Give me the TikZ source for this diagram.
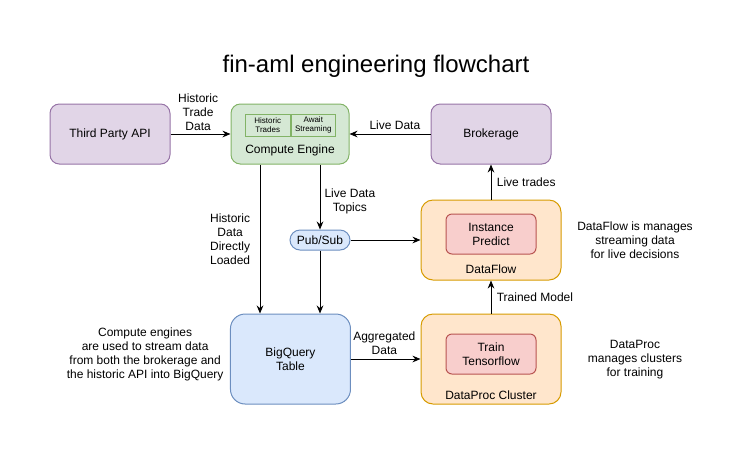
\documentclass[tikz,border=0pt]{standalone}
\usepackage{fontspec}
\setmainfont{Liberation Sans}
\usepackage{tikz}
\usetikzlibrary{arrows.meta, positioning, shapes.geometric}
\definecolor{srcFill}{HTML}{E1D5E7}
\definecolor{srcDraw}{HTML}{9673A6}
\definecolor{ceFill}{HTML}{D5E8D4}
\definecolor{ceDraw}{HTML}{82B366}
\definecolor{bqFill}{HTML}{DAE8FC}
\definecolor{bqDraw}{HTML}{6C8EBF}
\definecolor{clFill}{HTML}{FFE6CC}
\definecolor{clDraw}{HTML}{D79B00}
\definecolor{tkFill}{HTML}{F8CECC}
\definecolor{tkDraw}{HTML}{B85450}
\tikzstyle{fSource} = [rectangle, rounded corners=7pt, minimum width=90pt, minimum height=45pt, text centered, line width=0.75pt, draw=srcDraw, fill=srcFill]
\tikzstyle{fCompute} = [rectangle, rounded corners=7pt, minimum width=88.5pt, minimum height=45pt, line width=0.75pt, draw=ceDraw, fill=ceFill]
\tikzstyle{fCell} = [rectangle, minimum width=33.4pt, minimum height=16.5pt, inner sep=0pt, align=center, line width=0.75pt, draw=ceDraw, font=\fontsize{6}{7.2}\selectfont]
\tikzstyle{fQueue} = [rectangle, rounded corners=7.5pt, minimum width=45pt, minimum height=15pt, inner sep=0pt, line width=0.75pt, draw=bqDraw, fill=bqFill]
\tikzstyle{fStore} = [rectangle, rounded corners=11pt, minimum width=90pt, minimum height=67.5pt, align=center, line width=0.75pt, draw=bqDraw, fill=bqFill]
\tikzstyle{fCluster} = [rectangle, rounded corners=9pt, minimum width=105pt, line width=0.75pt, draw=clDraw, fill=clFill]
\tikzstyle{fTask} = [rectangle, rounded corners=4.5pt, minimum width=67.5pt, minimum height=30pt, align=center, line width=0.75pt, draw=tkDraw, fill=tkFill]
\tikzstyle{fNote} = [align=center, inner sep=1pt]
\tikzstyle{fArrow} = [line width=0.75pt, -{Stealth[length=6pt, width=5pt]}]

\begin{document}
\begin{tikzpicture}[x=1pt, y=1pt, every node/.style={font=\fontsize{9}{10.5}\selectfont}]
    \useasboundingbox (0,0) rectangle (564,-341.25);
    \node (title) [font=\fontsize{18}{21}\selectfont] at (282,-49.5) {fin-aml engineering flowchart};
    \node (thirdparty) [fSource] at (82.5,-100.5) {Third Party API};
    \node (compute) [fCompute, right of=thirdparty, node distance=135pt, label={[anchor=center, yshift=10.5pt]south:Compute Engine}] {};
    \node (histcell) [fCell, xshift=-16.7pt, yshift=6.75pt] at (compute) {Historic\\Trades};
    \node (awaitcell) [fCell, right=0pt of histcell] {Await\\Streaming};
    \node (brokerage) [fSource, right of=compute, node distance=150.75pt] {Brokerage};
    \node (dataflow) [fCluster, minimum height=60pt, below of=brokerage, node distance=79.5pt, label={[anchor=center, yshift=8.25pt]south:DataFlow}] {};
    \node (predict) [fTask, yshift=4.5pt] at (dataflow) {Instance\\Predict};
    \node (dataproc) [fCluster, minimum height=67.5pt, below of=dataflow, node distance=89.25pt, label={[anchor=center, yshift=6.75pt]south:DataProc Cluster}] {};
    \node (train) [fTask, yshift=3.75pt] at (dataproc) {Train\\Tensorflow};
    \node (bigquery) [fStore, left of=dataproc, node distance=150.4pt] {BigQuery\\Table};
    \node (pubsub) [fQueue, below of=compute, node distance=79.5pt, xshift=22.5pt] {Pub/Sub};
    \node (cenote) [fNote, left of=bigquery, node distance=109pt, yshift=3.75pt] {Compute engines\\are used to stream data\\from both the brokerage and\\the historic API into BigQuery};
    \node (dfnote) [fNote, right of=dataflow, node distance=108pt] {DataFlow is manages\\streaming data\\for live decisions};
    \node (dpnote) [fNote, right of=dataproc, node distance=108pt, yshift=-0.75pt] {DataProc\\manages clusters\\for training};

    \draw [fArrow] (thirdparty) -- node[above, pos=0.46, align=center, inner sep=2pt] {Historic\\Trade\\Data} (compute);
    \draw [fArrow] (brokerage) -- node[above, pos=0.44, inner sep=3pt] {Live Data} (compute);
    \draw [fArrow] ([xshift=-22.5pt]compute.south) -- node[left, align=center, pos=0.5, inner sep=7pt] {Historic\\Data\\Directly\\Loaded} ([xshift=-22.5pt]compute.south |- bigquery.north);
    \draw [fArrow] ([xshift=22.5pt]compute.south) -- node[right, align=center, pos=0.56, inner sep=3pt] {Live Data\\Topics} (pubsub);
    \draw [fArrow] (pubsub) -- (pubsub |- bigquery.north);
    \draw [fArrow] (pubsub) -- (dataflow);
    \draw [fArrow] (dataflow) -- node[right, inner sep=4pt] {Live trades} (brokerage);
    \draw [fArrow] (dataproc) -- node[right, inner sep=4pt] {Trained Model} (dataflow);
    \draw [fArrow] (bigquery) -- node[above, pos=0.48, align=center, inner sep=3pt] {Aggregated\\Data} (dataproc);
\end{tikzpicture}
\end{document}
